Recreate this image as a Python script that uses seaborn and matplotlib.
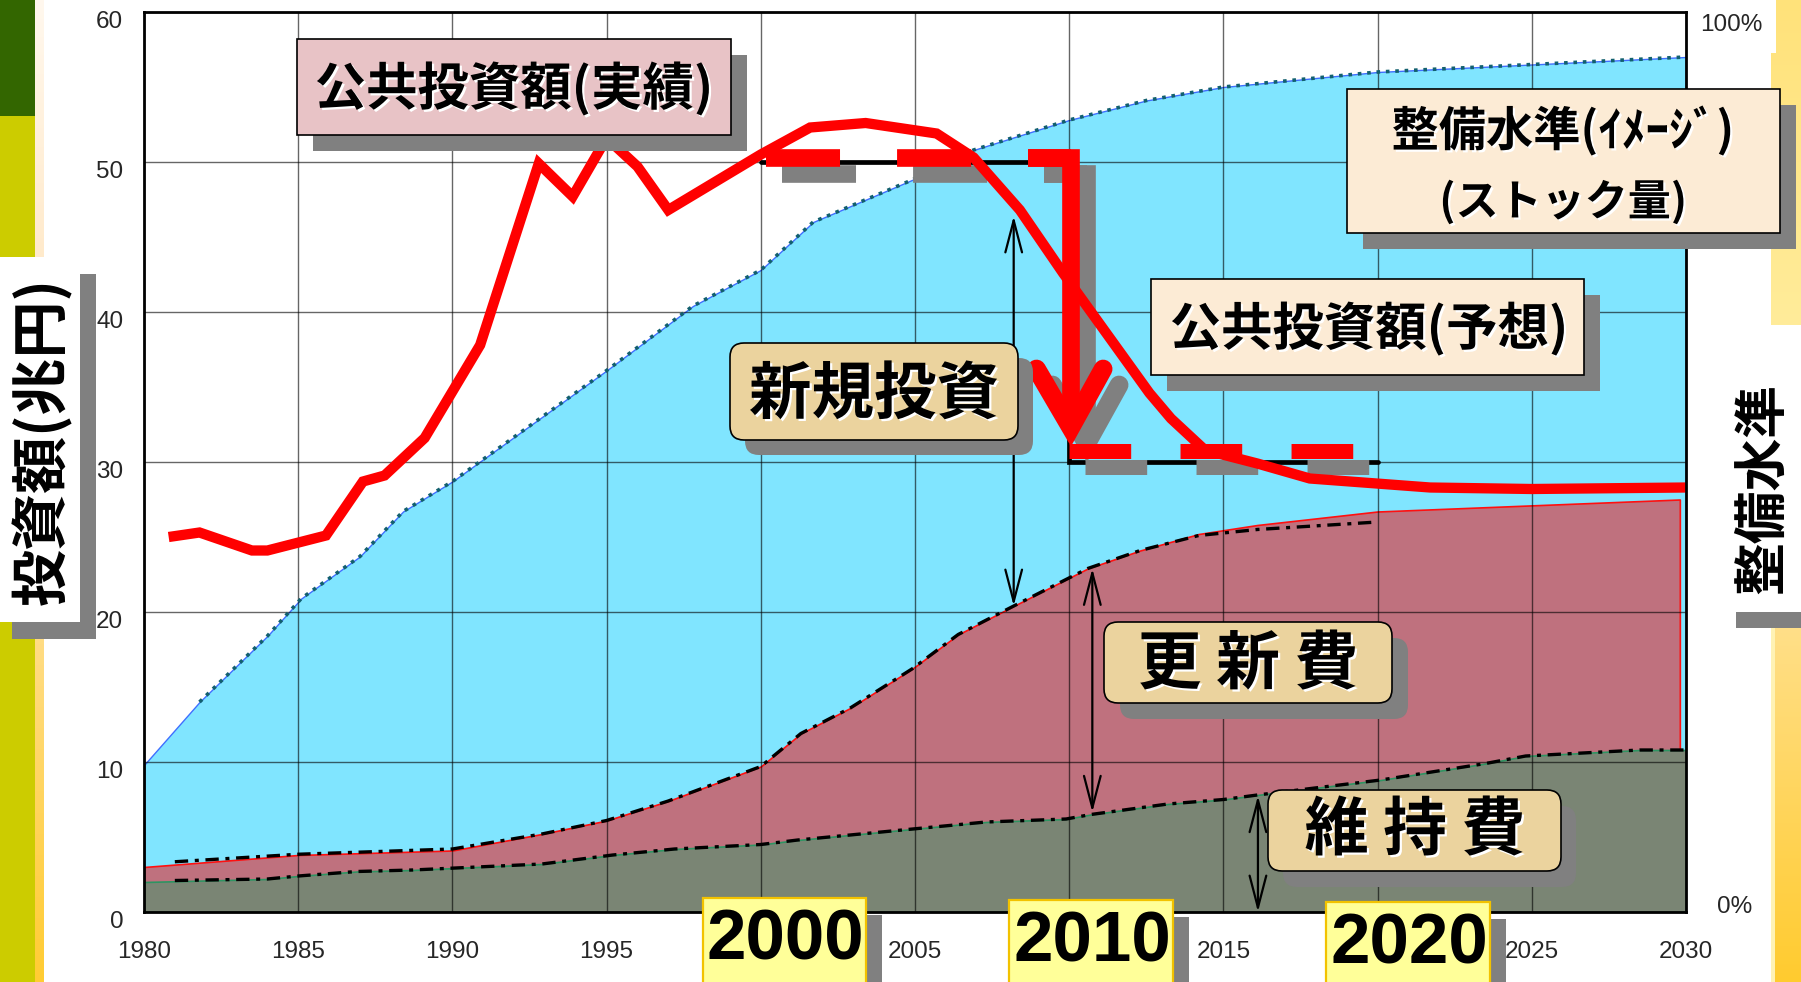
import numpy as np
import matplotlib
matplotlib.use("Agg")
import matplotlib.pyplot as plt
import matplotlib.patheffects as pe
from matplotlib.patches import FancyBboxPatch, Rectangle
from matplotlib.transforms import IdentityTransform, ScaledTranslation
from matplotlib.colors import LinearSegmentedColormap
from matplotlib import font_manager as fm
import seaborn as sns

# ---------------- data (兆円) ----------------
# 公共投資額: actual to 2008, outlook afterwards
invest_years = [1980.8, 1981.8, 1983.5, 1984.0, 1985.9, 1987.1, 1987.8, 1989.1, 1990.9,
                1992.8, 1993.9, 1995.0, 1996.0, 1997.0, 2000.0, 2001.6, 2003.4, 2005.7,
                2006.9, 2008.4, 2009.8, 2012.6, 2013.3, 2014.4, 2016.1, 2017.8, 2021.7,
                2025.0, 2030.0]
invest_vals = [25.0, 25.3, 24.1, 24.1, 25.1, 28.7, 29.1, 31.6, 37.8,
               49.9, 47.7, 51.6, 49.7, 46.8, 50.5, 52.3, 52.6, 51.9,
               50.3, 46.8, 42.6, 34.6, 32.9, 30.8, 29.9, 28.9, 28.3,
               28.2, 28.3]

# 整備水準 (stock) - drawn on the same scale
stock_years = [1980, 1981.8, 1984.0, 1985.1, 1987.0, 1988.4, 1990.0, 1995.0, 1997.8,
               2000.0, 2001.7, 2004.9, 2006.9, 2010.0, 2012.5, 2015.0, 2020.0, 2025.0, 2030.0]
stock_vals = [9.8, 14.0, 18.4, 20.9, 23.7, 26.7, 28.7, 36.1, 40.4,
              42.8, 46.0, 48.8, 50.8, 52.8, 54.1, 55.0, 56.0, 56.5, 57.0]

# 更新費 (renewal + maintenance)
renew_years = [1980, 1985, 1990, 1992.9, 1995, 1997, 2000, 2001.3, 2002.9, 2004.9,
               2006.4, 2008.2, 2010.6, 2012.3, 2014.2, 2016.1, 2020.0, 2029.8]
renew_vals = [3.0, 3.8, 4.1, 5.2, 6.1, 7.4, 9.7, 11.9, 13.6, 16.2,
              18.5, 20.4, 22.9, 24.1, 25.2, 25.8, 26.7, 27.5]
renew_trend_years = [1981, 1985, 1990, 1992.9, 1995, 1997, 2000, 2001.3, 2002.9, 2004.9,
                     2006.4, 2008.2, 2010.6, 2012.3, 2014.2, 2016.1, 2020.0]
renew_trend_vals = [3.35, 3.85, 4.2, 5.2, 6.1, 7.4, 9.7, 11.9, 13.6, 16.2,
                    18.5, 20.4, 22.9, 24.1, 25.1, 25.5, 26.0]

# 維持費 (maintenance)
maint_years = [1980, 1984.0, 1985.0, 1986.9, 1988.7, 1992.9, 1995.2, 1997.2, 2000.0, 2001.2,
               2004.5, 2007.3, 2009.9, 2010.7, 2013.2, 2015.0, 2016.1, 2020.1, 2023.5,
               2024.8, 2028.5, 2030.0]
maint_vals = [2.0, 2.2, 2.4, 2.7, 2.8, 3.2, 3.8, 4.2, 4.5, 4.8,
              5.45, 6.0, 6.2, 6.5, 7.2, 7.5, 7.8, 8.8, 9.9,
              10.4, 10.8, 10.8]
maint_trend_years = [1981] + maint_years[1:]
maint_trend_vals = [2.1] + maint_vals[1:]

# investment level step: 50 -> 30 兆円
level_years = [2000, 2010, 2020]
level_now = 50
level_future = 30

# spans marked by the thin double arrows (x, top, bottom)
arrow_new = (2008.2, 46.4, 20.4)
arrow_renew = (2010.75, 22.9, 6.65)
arrow_maint = (2016.12, 7.75, 0.0)

x_ticks = [1980, 1985, 1990, 1995, 2000, 2005, 2010, 2015, 2020, 2025, 2030]
y_ticks = [0, 10, 20, 30, 40, 50, 60]
decade_labels = ["2000", "2010", "2020"]

# ---------------- style ----------------
sns.set_theme(style="white")
CJK = ["Noto Sans CJK JP", "DejaVu Sans"]
plt.rcParams["font.family"] = CJK
avail = {f.name for f in fm.fontManager.ttflist}
if "Liberation Sans Narrow" in avail:
    NUM, NUM_SIZE = ["Liberation Sans Narrow", "DejaVu Sans"], 20
else:
    NUM, NUM_SIZE = ["Liberation Sans", "DejaVu Sans"], 17.5
NUM_BOLD = ["Liberation Sans", "DejaVu Sans"]

W, H = 1801, 982
PX = IdentityTransform()
fig = plt.figure(figsize=(W / 100, H / 100), dpi=100, facecolor="white")
ax = fig.add_axes([144 / W, 1 - 912 / H, 1542 / W, 900 / H])
ax.set_facecolor("white")
ax.set_xlim(1980, 2030)
ax.set_ylim(0, 60)

# ---------------- areas ----------------
ax.fill_between(stock_years, stock_vals, 0, facecolor="#80E5FF", edgecolor="#3F6FFF",
                linewidth=1.0, zorder=1)
ax.fill_between(renew_years, renew_vals, 0, facecolor="#BF717E", edgecolor="#FF1010",
                linewidth=1.2, zorder=1.1)
ax.fill_between(maint_years, maint_vals, 0, facecolor="#7A8574", edgecolor="#2E9462",
                linewidth=1.2, zorder=1.2)

ax.set_xticks(x_ticks)
ax.set_yticks(y_ticks)
ax.grid(True, color="black", alpha=0.6, linewidth=1.0)
ax.set_axisbelow(False)

ax.plot(stock_years[1:], stock_vals[1:], color="#12606E", lw=2.6, dashes=(1.0, 1.6), zorder=3)
ax.plot(renew_trend_years, renew_trend_vals, color="black", lw=2.4, dashes=(4, 2, 1.2, 2), zorder=3)
ax.plot(maint_trend_years, maint_trend_vals, color="black", lw=2.4, dashes=(4, 2, 1.2, 2), zorder=3)

# level step bracket
ax.plot([level_years[0], level_years[1], level_years[1], level_years[2]],
        [level_now, level_now, level_future, level_future],
        color="black", lw=3.4, solid_joinstyle="miter", zorder=4)

# thin double arrows
for xa, ytop, ybot in (arrow_new, arrow_renew, arrow_maint):
    ax.annotate("", xy=(xa, ybot), xytext=(xa, ytop),
                arrowprops=dict(arrowstyle="<->,head_length=2.3,head_width=0.6",
                                lw=1.6, color="black", shrinkA=0, shrinkB=0,
                                mutation_scale=10),
                zorder=6)

# ---------------- red step marker with drop shadow ----------------
PT_PER_YR = (1542 / 50) * 72 / 100
SHADOW = [pe.SimpleLineShadow(offset=(11.5, -11.5), shadow_color="#808080", alpha=1.0)]


def red_mark(xs, ys, **kw):
    ax.plot(xs, ys, color="#FF0000", path_effects=SHADOW, zorder=7.5, **kw)
    ax.plot(xs, ys, color="#FF0000", zorder=8, **kw)


lw_top, lw_bot = 12.7, 10.8
red_mark([level_years[0] + 0.16, level_years[1] + 0.05], [level_now + 0.25] * 2, lw=lw_top,
         dashes=(2.4 * PT_PER_YR / lw_top, 1.85 * PT_PER_YR / lw_top))
red_mark([level_years[1], level_years[2] - 0.8], [level_future + 0.73] * 2, lw=lw_bot,
         dashes=(2.0 * PT_PER_YR / lw_bot, 1.6 * PT_PER_YR / lw_bot))
red_mark([2008.66, 2010.05, 2010.05], [level_now + 0.25, level_now + 0.25, 32.3], lw=lw_top,
         solid_joinstyle="miter", solid_capstyle="butt")
red_mark([2008.94, 2010.05, 2011.1], [36.2, 32.3, 36.2], lw=13.5,
         solid_joinstyle="miter", solid_capstyle="round")

# 公共投資額 curve
sns.lineplot(x=invest_years, y=invest_vals, ax=ax, color="#FF0000", lw=7.4, sort=False,
             estimator=None, solid_joinstyle="miter", solid_capstyle="butt", zorder=9,
             legend=False)
ax.set_xlabel("")
ax.set_ylabel("")

# ---------------- axes cosmetics ----------------
# the decade years get their own highlighted labels below the axis
ax.set_xticklabels(["" if str(v) in decade_labels else str(v) for v in x_ticks],
                   fontsize=NUM_SIZE, family=NUM)
ax.set_yticklabels([str(v) for v in y_ticks], fontsize=NUM_SIZE, family=NUM)
ax.tick_params(axis="x", length=0, pad=21)
ax.tick_params(axis="y", direction="in", length=6, width=1.2, color="black", pad=15)
for lbl in ax.get_yticklabels():
    lbl.set_transform(lbl.get_transform() + ScaledTranslation(0, -8 / 100, fig.dpi_scale_trans))
for s in ax.spines.values():
    s.set_color("black")
    s.set_linewidth(2.0)
    s.set_zorder(10)

# ---------------- page decoration ----------------
def rect(x0, y0, x1, y1, color, z=1):
    fig.add_artist(Rectangle((x0, H - y1), x1 - x0, y1 - y0, transform=PX,
                             facecolor=color, edgecolor="none", zorder=z))


def gradient(x0, y0, x1, y1, c_top, c_bot):
    a = fig.add_axes([x0 / W, 1 - y1 / H, (x1 - x0) / W, (y1 - y0) / H])
    a.axis("off")
    cmap = LinearSegmentedColormap.from_list("g", [c_top, c_bot])
    a.imshow(np.linspace(0, 1, 256).reshape(-1, 1), aspect="auto", cmap=cmap,
             extent=[0, 1, 0, 1])


rect(0, 0, 35, 116, "#336600")
rect(0, 116, 35, 257, "#CCCC00")
rect(0, 622, 35, 982, "#CCCC00")
gradient(35, 0, 44, 257, "#FFF8EE", "#FFEACB")
gradient(35, 622, 44, 982, "#FFDD88", "#FFCC33")
gradient(1771, 0, 1801, 325, "#FFE27A", "#FFEC9A")
rect(1760, 0, 1776, 53, "white", z=2)
gradient(1771, 628, 1801, 982, "#FFDF88", "#FFCB2F")
rect(1771, 628, 1775, 982, "#FFF2B4", z=2)


def panel(x0, y0, x1, y1, face, edge="black", lw=1.2, radius=0, off=(16, 16)):
    style = f"round,pad=0,rounding_size={radius}" if radius else "square,pad=0"
    if off:
        fig.add_artist(FancyBboxPatch((x0 + off[0], H - y1 - off[1]), x1 - x0, y1 - y0,
                                      boxstyle=style, facecolor="#808080", edgecolor="none",
                                      transform=PX, zorder=20))
    fig.add_artist(FancyBboxPatch((x0, H - y1), x1 - x0, y1 - y0, boxstyle=style,
                                  facecolor=face, edgecolor=edge, linewidth=lw,
                                  transform=PX, zorder=21))


GLOW = [pe.withSimplePatchShadow(offset=(1.6, -1.6), shadow_rgbFace="white", alpha=1.0)]


def label(cx, cy, s, size, rot=0, glow=True, family=CJK, **kw):
    fig.text(cx, H - cy, s, transform=PX, ha="center", va="center", rotation=rot,
             fontsize=size, fontweight="bold", family=family, color="black",
             path_effects=GLOW if glow else None, zorder=22, **kw)


# axis titles
panel(-4, 257, 80, 622, "white", edge="none", off=(16, 17))
label(42, 441, "投資額(兆円)", 41, rot=90, glow=False)
panel(1720, 325, 1830, 612, "white", edge="none", off=(16, 16))
label(1763, 489, "整備水準", 38, rot=90, glow=False)

# right-hand scale
fig.text(1700, H - 25, "100%", transform=PX, ha="left", va="center",
         fontsize=NUM_SIZE, family=NUM, zorder=22)
fig.text(1717, H - 907, "0%", transform=PX, ha="left", va="center",
         fontsize=NUM_SIZE, family=NUM, zorder=22)

# callouts
panel(297, 39, 731, 135, "#E8C3C6")
label(514, 89, "公共投資額(実績)", 37)
panel(1347, 89, 1780, 233, "#FCEBD5")
label(1563, 131, "整備水準(ｲﾒｰｼﾞ)", 34)
label(1563, 202, "(ストック量)", 31)
panel(1151, 279, 1584, 375, "#FCEBD5")
label(1369, 329, "公共投資額(予想)", 37)
panel(730, 343, 1018, 440, "#EBD39E", radius=14, off=(15, 15))
label(874, 395, "新規投資", 45)
panel(1104, 622, 1392, 703, "#EBD39E", radius=14, off=(16, 16))
label(1248, 665, "更 新 費", 46)
panel(1268, 790, 1561, 871, "#EBD39E", radius=14, off=(15, 16))
label(1415, 831, "維 持 費", 46)

# highlighted decades
decade_boxes = [(703, 898, 866), (1009, 900, 1173), (1326, 902, 1490)]
for lab, (x0, y0, x1) in zip(decade_labels, decade_boxes):
    panel(x0, y0, x1, 1010, "#FFFF99", edge="#F2C200", lw=1.6, off=(16, 17))
    label((x0 + x1) / 2 + 1, y0 + 43, lab, 51, glow=False, family=NUM_BOLD)

fig.savefig("out.png", dpi=100, facecolor="white")
